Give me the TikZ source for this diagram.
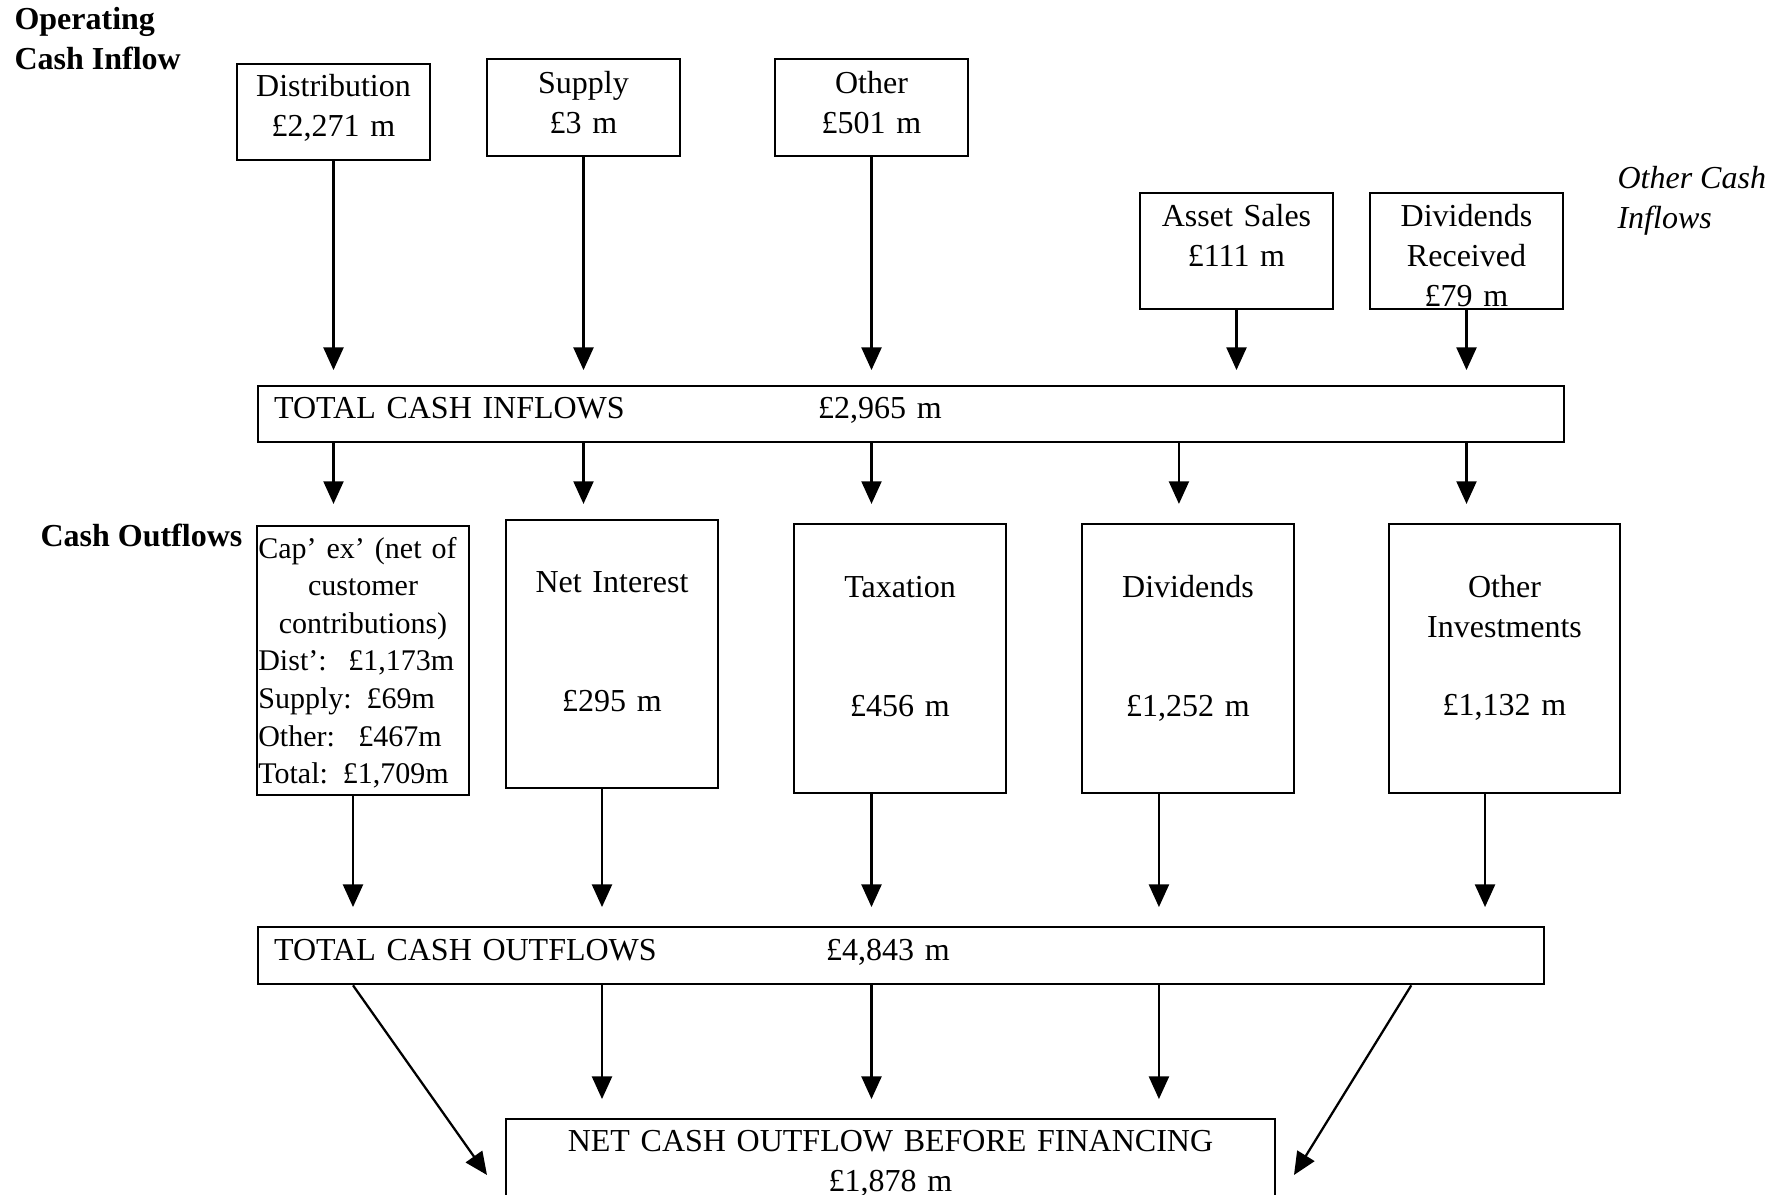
\documentclass[tikz,border=0pt]{standalone}
\usepackage{fontspec}
\setmainfont{Liberation Serif}
\usetikzlibrary{arrows.meta}

\tikzset{
  cashbox/.style={draw, line width=0.85pt, inner sep=0pt, align=center, anchor=north, text height=12pt},
  flow/.style={line width=0.85pt, -{Triangle[length=8.5pt,width=7.5pt]}},
  heading/.style={font=\fontsize{12}{15}\selectfont\bfseries, align=left, anchor=base west, inner sep=0pt}
}

\begin{document}
\begin{tikzpicture}[x=0.375pt, y=-0.375pt, font=\fontsize{12}{15}\selectfont]
  \useasboundingbox (0,0) rectangle (1784,1195);
  \clip (0,0) rectangle (1784,1195);

  % headings
  \node[heading] (opin) at (14,70) {Operating\\Cash Inflow};
  \node[heading] (cashout) at (40,546) {Cash Outflows};
  \node[heading, font=\fontsize{12}{15}\selectfont\itshape] (othin) at (1617,228) {Other Cash\\Inflows};

  % operating cash inflow
  \node[cashbox, text width=72.4pt, text depth=24pt] (dist) at (333.5,63) {Distribution\\£2,271 m};
  \node[cashbox, text width=72.4pt, text height=12.75pt, text depth=23.6pt] (supply) at (583.5,58) {Supply\\£3 m};
  \node[cashbox, text width=72.4pt, text height=12.75pt, text depth=23.6pt] (other) at (871.5,58) {Other\\£501 m};

  % other cash inflows
  \node[cashbox, text width=72.4pt, text height=12.4pt, text depth=31.1pt] (asset) at (1236.5,192) {Asset Sales\\£111 m};
  \node[cashbox, text width=72.4pt, text height=12.4pt, text depth=31.1pt] (divrec) at (1466.5,192) {Dividends\\Received\\£79 m};

  \node[cashbox, anchor=north west, align=left, text width=477.75pt, inner xsep=6pt, text depth=9pt] (inflow) at (257,385)
    {\makebox[204pt][l]{TOTAL CASH INFLOWS}£2,965 m};

  % cash outflows
  \node[cashbox, align=left, text width=78.5pt, inner xsep=0.5pt, text depth=88.9pt,
        font=\fontsize{11.25}{14.1}\selectfont] (capex) at (363,525)
    {Cap’ ex’ (net of\\
     \makebox[\linewidth]{customer}\\
     \makebox[\linewidth]{contributions)}\\
     Dist’:\hspace{8.1pt}£1,173m\\
     Supply: £69m\\
     Other:\hspace{8.75pt}£467m\\
     Total: £1,709m};
  \node[cashbox, text width=79.5pt, text height=27pt, text depth=73.5pt] (netint) at (612,519) {Net Interest\\[29.6pt]£295 m};
  \node[cashbox, text width=79.5pt, text height=27.4pt, text depth=73.5pt] (tax) at (900,523) {Taxation\\[29.6pt]£456 m};
  \node[cashbox, text width=79.5pt, text height=27.4pt, text depth=73.5pt] (divs) at (1188,523) {Dividends\\[29.6pt]£1,252 m};
  \node[cashbox, text width=86.6pt, text height=27.4pt, text depth=73.5pt] (othinv) at (1504.5,523) {Other\\Investments\\[14.25pt]£1,132 m};

  \node[cashbox, anchor=north west, align=left, text width=470.25pt, inner xsep=6pt, text height=12.4pt, text depth=9pt] (outflow) at (257,926)
    {\makebox[207pt][l]{TOTAL CASH OUTFLOWS}£4,843 m};

  \node[cashbox, text width=288.4pt, text depth=45pt] (net) at (890.5,1118) {NET CASH OUTFLOW BEFORE FINANCING\\£1,878 m};

  \coordinate (netleft) at (487,1175);
  \coordinate (netright) at (1294,1175);

  % inflows into the total
  \draw[flow, shorten >=5.6pt] (dist) -- (dist |- inflow.north);
  \draw[flow, shorten >=5.6pt] (supply) -- (supply |- inflow.north);
  \draw[flow, shorten >=5.6pt] (other) -- (other |- inflow.north);
  \draw[flow, shorten >=5.6pt] (asset) -- (asset |- inflow.north);
  \draw[flow, shorten >=5.6pt] (divrec) -- (divrec |- inflow.north);

  % total into the outflows
  \draw[flow, shorten >=7.9pt] (dist |- inflow.south) -- (dist |- capex.north);
  \draw[flow, shorten >=7.9pt] (supply |- inflow.south) -- (supply |- capex.north);
  \draw[flow, shorten >=7.9pt] (other |- inflow.south) -- (other |- capex.north);
  \draw[flow, shorten >=7.9pt] ([xshift=-3.4pt]divs.north |- inflow.south) -- ([xshift=-3.4pt]divs.north |- capex.north);
  \draw[flow, shorten >=7.9pt] (divrec |- inflow.south) -- (divrec |- capex.north);

  % outflows into the total
  \draw[flow, shorten >=7.1pt] ([xshift=-3.75pt]capex.south) -- ([xshift=-3.75pt]capex.south |- outflow.north);
  \draw[flow, shorten >=7.1pt] ([xshift=-3.75pt]netint.south) -- ([xshift=-3.75pt]netint.south |- outflow.north);
  \draw[flow, shorten >=7.1pt] (other |- tax.south) -- (other |- outflow.north);
  \draw[flow, shorten >=7.1pt] ([xshift=-10.9pt]divs.south) -- ([xshift=-10.9pt]divs.south |- outflow.north);
  \draw[flow, shorten >=7.1pt] ([xshift=-7.3pt]othinv.south) -- ([xshift=-7.3pt]othinv.south |- outflow.north);

  % total into the net outflow
  \draw[flow] ([xshift=-3.75pt]capex.south |- outflow.south) -- (netleft);
  \draw[flow, shorten >=7.1pt] ([xshift=-3.75pt]netint.south |- outflow.south) -- ([xshift=-3.75pt]netint.south |- net.north);
  \draw[flow, shorten >=7.1pt] (other |- outflow.south) -- (other |- net.north);
  \draw[flow, shorten >=7.1pt] ([xshift=-10.9pt]divs.south |- outflow.south) -- ([xshift=-10.9pt]divs.south |- net.north);
  \draw[flow] ([xshift=-50.25pt]outflow.south east) -- (netright);
\end{tikzpicture}
\end{document}
